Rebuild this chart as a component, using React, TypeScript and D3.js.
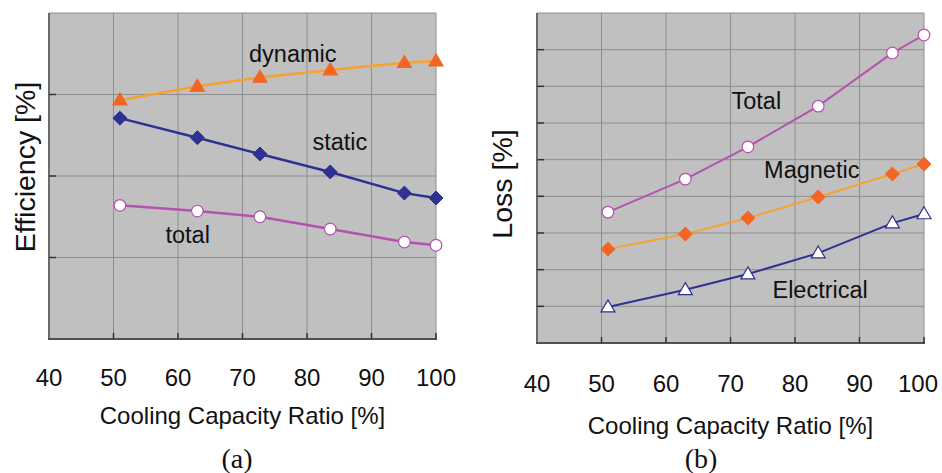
import React from 'react';
import * as d3 from 'd3';

// cooling capacity ratio [%] - same for every series
const ratio = [51, 63, 72.7, 83.6, 95.1, 100];
const xTicks = [40, 50, 60, 70, 80, 90, 100];

// (a) efficiency, arbitrary units (no y labels on the original)
const effDynamic = [2.93, 3.10, 3.21, 3.30, 3.39, 3.41];
const effStatic = [2.71, 2.47, 2.27, 2.05, 1.79, 1.73];
const effTotal = [1.64, 1.57, 1.50, 1.35, 1.19, 1.15];

// (b) loss, arbitrary units
const lossTotal = [3.57, 4.47, 5.35, 6.46, 7.91, 8.40];
const lossMagnetic = [2.56, 2.97, 3.41, 3.98, 4.61, 4.88];
const lossElectrical = [0.98, 1.45, 1.88, 2.45, 3.27, 3.52];

const ORANGE_LINE = '#f7a230';
const ORANGE_MARK = '#f26522';
const NAVY = '#2e3192';
const MAGENTA = '#b452b0';
const SANS = 'Liberation Sans, Arial, sans-serif';

type Marker = 'circle' | 'diamond' | 'triangle';
type Series = {
  values: number[];
  color: string;
  width: number;
  marker: Marker;
  fill: string;
  stroke: string;
  label: string;
  lx: number; // label position in data units
  ly: number;
};

function Mark(props: { kind: Marker; x: number; y: number; fill: string; stroke: string }) {
  const { kind, x, y, fill, stroke } = props;
  if (kind === 'circle')
    return <circle cx={x} cy={y} r={5.8} fill={fill} stroke={stroke} strokeWidth={1.2} />;
  if (kind === 'diamond') {
    const s = 7;
    return (
      <path d={`M${x},${y - s}L${x + s},${y}L${x},${y + s}L${x - s},${y}Z`} fill={fill} stroke={stroke} strokeWidth={1} />
    );
  }
  const w = 7, h = 12;
  return (
    <path d={`M${x},${y - h * 0.6}L${x + w},${y + h * 0.4}L${x - w},${y + h * 0.4}Z`} fill={fill} stroke={stroke} strokeWidth={1.2} />
  );
}

function Panel(props: {
  x0: number; x1: number; top: number; bottom: number;
  yMax: number; series: Series[]; yTitle: string; caption: string;
  tickY: number; titleY: number; yTitleX: number; yTitleY: number; captionX: number;
}) {
  const { x0, x1, top, bottom, yMax, series, yTitle, caption, tickY, titleY, yTitleX, yTitleY, captionX } = props;
  const x = d3.scaleLinear().domain([40, 100]).range([x0, x1]);
  const y = d3.scaleLinear().domain([0, yMax]).range([bottom, top]);
  const yTicks = d3.range(1, yMax);
  const line = d3.line<number>().x((d, i) => x(ratio[i])).y(d => y(d));
  const cx = (x0 + x1) / 2;

  return (
    <g>
      <rect x={x0} y={top} width={x1 - x0} height={bottom - top} fill="#c0c0c0" />
      {xTicks.slice(1).map(t => (
        <line key={'gx' + t} x1={x(t)} x2={x(t)} y1={top} y2={bottom} stroke="#8e8e8e" strokeWidth={1} />
      ))}
      {yTicks.concat([yMax]).map(t => (
        <line key={'gy' + t} x1={x0} x2={x1} y1={y(t)} y2={y(t)} stroke="#8e8e8e" strokeWidth={1} />
      ))}
      {/* axes */}
      <line x1={x0} x2={x0} y1={top} y2={bottom + 1} stroke="#6a6a6a" strokeWidth={2} />
      <line x1={x0 - 1} x2={x1 + 1} y1={bottom} y2={bottom} stroke="#505050" strokeWidth={2} />
      {yTicks.map(t => (
        <line key={'ty' + t} x1={x0} x2={x0 + 7} y1={y(t)} y2={y(t)} stroke="#333" strokeWidth={1.5} />
      ))}
      {xTicks.slice(1).map(t => (
        <line key={'tx' + t} x1={x(t)} x2={x(t)} y1={bottom} y2={bottom - 6} stroke="#333" strokeWidth={1.5} />
      ))}
      {xTicks.map(t => (
        // keep the last label inside the 942px frame
        <text key={'lx' + t} x={Math.min(x(t), 918)} y={tickY} textAnchor="middle" fontSize={24}
          fontFamily={SANS} fill="#111">{t}</text>
      ))}
      {series.map(s => (
        <g key={s.label}>
          <path d={line(s.values) || ''} fill="none" stroke={s.color} strokeWidth={s.width} />
          {s.values.map((v, i) => (
            <Mark key={i} kind={s.marker} x={x(ratio[i])} y={y(v)} fill={s.fill} stroke={s.stroke} />
          ))}
          <text x={x(s.lx)} y={y(s.ly)} textAnchor="middle" fontSize={23.5}
            fontFamily={SANS} fill="#111">{s.label}</text>
        </g>
      ))}
      <text x={cx} y={titleY} textAnchor="middle" fontSize={24}
        fontFamily={SANS} fill="#111">Cooling Capacity Ratio [%]</text>
      <text transform={`translate(${yTitleX},${yTitleY}) rotate(-90)`} textAnchor="middle"
        fontSize={28.5} fontFamily={SANS} fill="#111">{yTitle}</text>
      <text x={captionX} y={468} textAnchor="middle" fontSize={28}
        fontFamily="Liberation Serif, Times New Roman, serif" fill="#111">{caption}</text>
    </g>
  );
}

const effSeries: Series[] = [
  { values: effDynamic, color: ORANGE_LINE, width: 2.5, marker: 'triangle', fill: ORANGE_MARK, stroke: ORANGE_MARK, label: 'dynamic', lx: 77.8, ly: 3.4 },
  { values: effStatic, color: NAVY, width: 2.5, marker: 'diamond', fill: NAVY, stroke: NAVY, label: 'static', lx: 85.1, ly: 2.32 },
  { values: effTotal, color: MAGENTA, width: 2.5, marker: 'circle', fill: '#fff', stroke: MAGENTA, label: 'total', lx: 61.5, ly: 1.18 },
];

const lossSeries: Series[] = [
  { values: lossTotal, color: MAGENTA, width: 2, marker: 'circle', fill: '#fff', stroke: MAGENTA, label: 'Total', lx: 74, ly: 6.38 },
  { values: lossMagnetic, color: ORANGE_LINE, width: 2, marker: 'diamond', fill: ORANGE_MARK, stroke: ORANGE_MARK, label: 'Magnetic', lx: 82.6, ly: 4.5 },
  { values: lossElectrical, color: NAVY, width: 2, marker: 'triangle', fill: '#fff', stroke: NAVY, label: 'Electrical', lx: 83.9, ly: 1.23 },
];

export default function App() {
  return (
    <svg width={942} height={473} style={{ position: 'absolute', left: 0, top: 0, background: '#fff' }}>
      <Panel x0={49} x1={436} top={13} bottom={339} yMax={4} series={effSeries}
        yTitle="Efficiency [%]" caption="(a)" tickY={386} titleY={424}
        yTitleX={35} yTitleY={167} captionX={237} />
      <Panel x0={537} x1={924} top={13} bottom={343} yMax={9} series={lossSeries}
        yTitle="Loss [%]" caption="(b)" tickY={392} titleY={434}
        yTitleX={512} yTitleY={184} captionX={701} />
    </svg>
  );
}
